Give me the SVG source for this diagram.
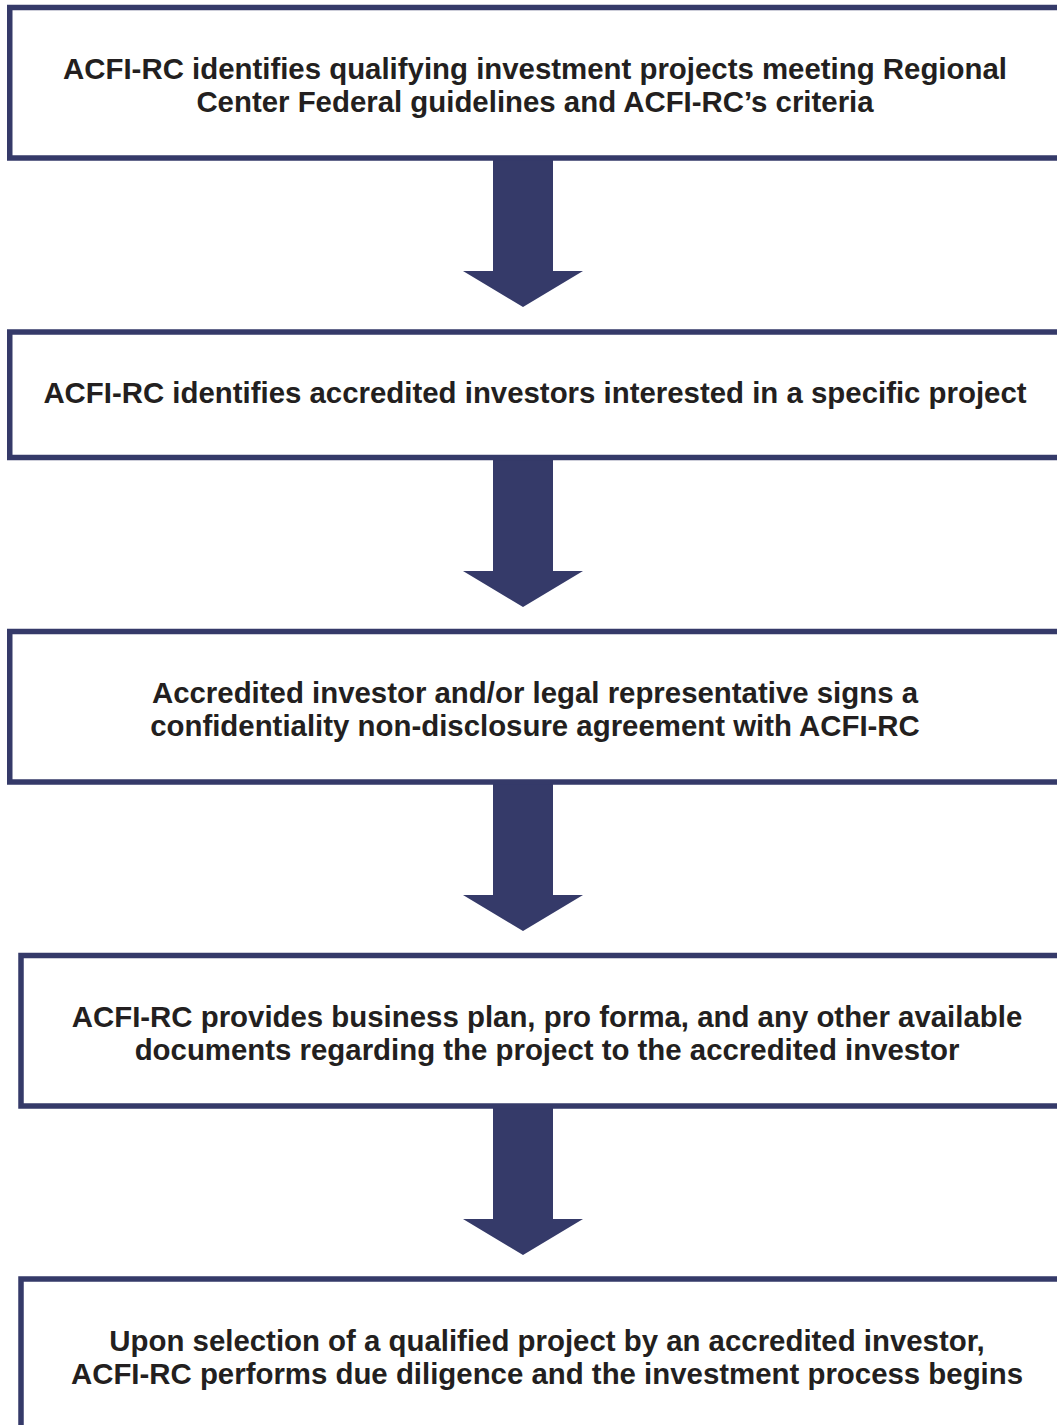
<svg xmlns="http://www.w3.org/2000/svg" width="1057" height="1425" viewBox="0 0 1057 1425">
  <defs>
    <style>
      .box { fill: #ffffff; stroke: #353a69; stroke-width: 5.5; }
      .arrow { fill: #353a69; stroke: none; }
      .label { font-family: "Liberation Sans", Arial, Helvetica, sans-serif; font-weight: bold; font-size: 29.4px; fill: #231f20; text-anchor: middle; }
    </style>
    <!-- block arrow pointing down, origin at top of shaft -->
    <path id="down-arrow" d="M493,0 H553 V111 H583 L523,147 L463,111 H493 Z"/>
  </defs>

  <rect width="1057" height="1425" fill="#ffffff"/>

  <g id="connectors">
    <use href="#down-arrow" class="arrow" transform="translate(0,160)"/>
    <use href="#down-arrow" class="arrow" transform="translate(0,460)"/>
    <use href="#down-arrow" class="arrow" transform="translate(0,784)"/>
    <use href="#down-arrow" class="arrow" transform="translate(0,1108)"/>
  </g>

  <g id="step-identify-projects">
    <rect class="box" x="9.75" y="7.5" width="1100" height="150.5"/>
    <text class="label" x="535" y="79">ACFI-RC identifies qualifying investment projects meeting Regional</text>
    <text class="label" x="535" y="112">Center Federal guidelines and ACFI-RC’s criteria</text>
  </g>

  <g id="step-identify-investors">
    <rect class="box" x="9.75" y="332" width="1100" height="125.5"/>
    <text class="label" x="535" y="403">ACFI-RC identifies accredited investors interested in a specific project</text>
  </g>

  <g id="step-nda">
    <rect class="box" x="9.75" y="631.5" width="1100" height="150.5"/>
    <text class="label" x="535" y="703">Accredited investor and/or legal representative signs a</text>
    <text class="label" x="535" y="736">confidentiality non-disclosure agreement with ACFI-RC</text>
  </g>

  <g id="step-documents">
    <rect class="box" x="21" y="955.5" width="1100" height="150.5"/>
    <text class="label" x="547" y="1027">ACFI-RC provides business plan, pro forma, and any other available</text>
    <text class="label" x="547" y="1060">documents regarding the project to the accredited investor</text>
  </g>

  <g id="step-due-diligence">
    <rect class="box" x="21" y="1279" width="1100" height="200"/>
    <text class="label" x="547" y="1351">Upon selection of a qualified project by an accredited investor,</text>
    <text class="label" x="547" y="1384">ACFI-RC performs due diligence and the investment process begins</text>
  </g>
</svg>
